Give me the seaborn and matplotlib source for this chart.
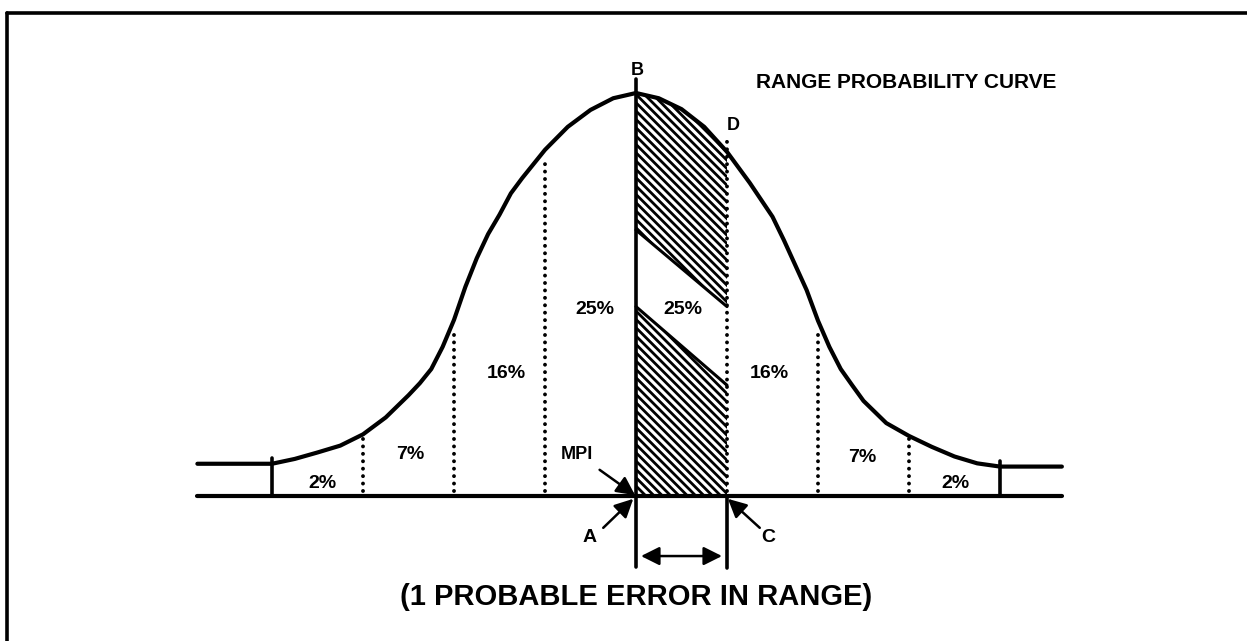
import numpy as np
import matplotlib
matplotlib.use("Agg")
import matplotlib.pyplot as plt
import seaborn as sns

# ---- data (x in probable errors, height with peak = 100) ----
CURVE_X = [-4.82, -4.0, -3.75, -3.5, -3.25, -3.0, -2.75, -2.5, -2.375, -2.25, -2.125,
           -2.0, -1.875, -1.75, -1.625, -1.5, -1.375, -1.25, -1.0, -0.75, -0.5, -0.25,
           0.0, 0.25, 0.5, 0.75, 1.0, 1.25, 1.5, 1.625, 1.75, 1.875, 2.0, 2.125, 2.25,
           2.375, 2.5, 2.75, 3.0, 3.25, 3.5, 3.75, 4.0, 4.68]
CURVE_Y = [8.0, 8.0, 9.2, 10.8, 12.5, 15.3, 19.5, 25.0, 28.0, 31.5, 37.0,
           43.7, 51.9, 59.0, 65.0, 69.8, 75.1, 78.9, 85.9, 91.6, 95.8, 98.7,
           100.0, 98.7, 96.0, 91.6, 85.4, 77.7, 69.3, 63.5, 57.3, 51.1, 43.5, 37.0, 31.5,
           27.5, 23.6, 18.1, 14.9, 12.2, 9.8, 8.1, 7.3, 7.3]

DOT_X = [-3, -2, -1, 1, 2, 3]
DOT_TOP = [14.4, 40.7, 84.0, 89.0, 41.7, 14.4]

PCT_LABELS = ["2%", "7%", "16%", "25%", "25%", "16%", "7%", "2%"]
PCT_X = [-3.45, -2.48, -1.42, -0.45, 0.51, 1.47, 2.49, 3.51]
PCT_Y = [3.2, 10.2, 30.5, 46.2, 46.2, 30.5, 9.6, 3.2]

# hatched band: upper part bottom edge and lower part top edge (at x = 0 and x = 1)
UPPER_BOTTOM = [66.0, 47.0]
LOWER_TOP = [47.0, 27.5]

sns.set_theme(style="white")
plt.rcParams["font.family"] = ["Liberation Sans", "DejaVu Sans"]
plt.rcParams["text.color"] = "black"
plt.rcParams["hatch.linewidth"] = 2.0

fig = plt.figure(figsize=(12.47, 6.41), dpi=100)
ax = fig.add_axes([0, 0, 1, 1])
ax.set_xlim(-636 / 91, (1247 - 636) / 91)
ax.set_ylim(-(641 - 496) / 4.03, 496 / 4.03)
ax.axis("off")

cx = np.array(CURVE_X)
cy = np.array(CURVE_Y)

# hatched region between B and D
seg = (cx >= 0) & (cx <= 1)
hx = cx[seg]
hy = cy[seg]
up_low = np.interp(hx, [0, 1], UPPER_BOTTOM)
ax.fill_between(hx, up_low, hy, facecolor="none", edgecolor="black",
                hatch="\\\\\\\\", linewidth=0)
ax.fill_between([0, 1], [0, 0], LOWER_TOP, facecolor="none", edgecolor="black",
                hatch="\\\\\\\\", linewidth=0)
ax.plot([0, 1], UPPER_BOTTOM, color="black", lw=2.2)
ax.plot([0, 1], LOWER_TOP, color="black", lw=2.2)

# bell curve
sns.lineplot(x=CURVE_X, y=CURVE_Y, color="black", lw=3.0, ax=ax, sort=False)
ax.lines[-1].set_solid_joinstyle("round")

# baseline
ax.plot([CURVE_X[0], CURVE_X[-1]], [0, 0], color="black", lw=3.0, solid_capstyle="round")

# dotted division lines
for x, top in zip(DOT_X, DOT_TOP):
    ax.plot([x, x], [1.2, top], color="black", lw=2.8,
            linestyle=(0, (0.01, 1.9)), dash_capstyle="round")

# solid end lines at +/- 4 PE
ax.plot([-4, -4], [0, 9.5], color="black", lw=2.6)
ax.plot([4, 4], [0, 8.8], color="black", lw=2.6)

# B line and C line
ax.plot([0, 0], [-17.5, 103.5], color="black", lw=2.6)
ax.plot([1, 1], [0, -17.9], color="black", lw=2.6)

# percentage labels
for lab, x, y in zip(PCT_LABELS, PCT_X, PCT_Y):
    ax.text(x, y, lab, ha="center", va="center", fontsize=14, fontweight="bold")

ax.text(0.01, 105.5, "B", ha="center", va="center", fontsize=13, fontweight="bold")
ax.text(1.07, 92.0, "D", ha="center", va="center", fontsize=13, fontweight="bold")
ax.text(2.97, 102.7, "RANGE PROBABILITY CURVE", ha="center", va="center",
        fontsize=15, fontweight="bold")
ax.text(-0.65, 10.2, "MPI", ha="center", va="center", fontsize=13, fontweight="bold")
ax.text(-0.51, -10.4, "A", ha="center", va="center", fontsize=14, fontweight="bold")
ax.text(1.45, -10.4, "C", ha="center", va="center", fontsize=14, fontweight="bold")
ax.text(0.0, -25.1, "(1 PROBABLE ERROR IN RANGE)", ha="center", va="center",
        fontsize=21, fontweight="bold")

arrow = dict(arrowstyle="-|>", color="black", lw=1.8, mutation_scale=28, shrinkA=0, shrinkB=0)
ax.annotate("", xy=(-0.01, 0.2), xytext=(-0.40, 6.5), arrowprops=arrow)
ax.annotate("", xy=(-0.03, -0.7), xytext=(-0.36, -7.9), arrowprops=arrow)
ax.annotate("", xy=(1.01, -0.7), xytext=(1.36, -7.9), arrowprops=arrow)
ax.annotate("", xy=(0.945, -14.9), xytext=(0.055, -14.9),
            arrowprops=dict(arrowstyle="<|-|>", color="black", lw=1.8, mutation_scale=28,
                            shrinkA=0, shrinkB=0))

# frame (top and left edges)
top = (496 - 13) / 4.03
left = (7 - 636) / 91
ax.plot([left, 20], [top, top], color="black", lw=2.6)
ax.plot([left, left], [top, -60], color="black", lw=2.6)

fig.savefig("out.png", dpi=100)
